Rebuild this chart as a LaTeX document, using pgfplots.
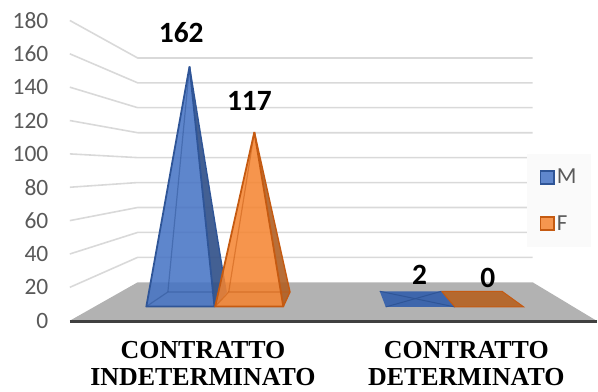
\documentclass[border=0pt]{standalone}
\usepackage{pgfplots}
\pgfplotsset{compat=1.18}
\usepackage{fontspec}
\setmainfont{Carlito}
\newfontfamily\serifb{Liberation Serif}[BoldFont={Liberation Serif Bold}]
\definecolor{gridc}{HTML}{D9D9D9}
\definecolor{floorc}{HTML}{B2B2B2}
\definecolor{axisc}{HTML}{404040}
\definecolor{txt}{HTML}{595959}
\definecolor{bf}{HTML}{4472C4}
\definecolor{be}{HTML}{2F5597}
\definecolor{of}{HTML}{F58430}
\definecolor{oe}{HTML}{C55A11}
\definecolor{bflat}{HTML}{3E66AC}
\definecolor{oflat}{HTML}{B5692F}
\pgfplotsset{
  swatchM/.style={legend image code/.code={\draw[draw=be,line width=1.5pt,fill=bf!85!white] (0pt,-6.5pt) rectangle (13.5pt,6.5pt);}},
  swatchF/.style={legend image code/.code={\draw[draw=oe,line width=1.5pt,fill=of!85!white] (0pt,-6.5pt) rectangle (13.5pt,6.5pt);}},
}
\begin{document}
\begin{tikzpicture}
\begin{axis}[
  width=598pt,height=392pt,scale only axis,
  xmin=0,xmax=598,ymin=-42.16,ymax=192.26,
  clip=false,no markers,
  axis line style={draw=none},
  major tick style={draw=none},
  xtick=\empty,
  ytick={0,20,40,60,80,100,120,140,160,180},
  /pgf/number format/assume math mode=true,
  yticklabel style={font=\fontsize{23.5}{25}\selectfont,text=txt,xshift=52pt},
  legend style={at={(axis cs:528,100.2)},anchor=north west,fill=white!98!black,draw=none,
    font=\fontsize{23}{25}\selectfont,text=txt,inner xsep=13pt,inner ysep=13.5pt,
    cells={anchor=west},row sep=26pt},
  legend cell align=left,
]
% walls gridlines
\addplot[gridc,line width=1.6pt,forget plot] coordinates {(70,20) (138,37.97) (534,37.97)};
\addplot[gridc,line width=1.6pt,forget plot] coordinates {(70,40) (138,52.92) (534,52.92)};
\addplot[gridc,line width=1.6pt,forget plot] coordinates {(70,60) (138,67.87) (534,67.87)};
\addplot[gridc,line width=1.6pt,forget plot] coordinates {(70,80) (138,82.82) (534,82.82)};
\addplot[gridc,line width=1.6pt,forget plot] coordinates {(70,100) (138,97.77) (534,97.77)};
\addplot[gridc,line width=1.6pt,forget plot] coordinates {(70,120) (138,112.7) (534,112.7)};
\addplot[gridc,line width=1.6pt,forget plot] coordinates {(70,140) (138,127.7) (534,127.7)};
\addplot[gridc,line width=1.6pt,forget plot] coordinates {(70,160) (138,142.6) (534,142.6)};
\addplot[gridc,line width=1.6pt,forget plot] coordinates {(70,180) (138,157.5) (534,157.5)};
% floor
\addplot[draw=none,fill=floorc,forget plot] coordinates {(70,0) (138,23.02) (534,23.02) (598,0) (70,0)};
\addplot[axisc,line width=3pt,forget plot] coordinates {(70,-0.2) (598,-0.2)};
% M, contratto indeterminato
\addplot[draw=none,fill=bf,fill opacity=0.86,forget plot] coordinates {(146.7,8.49) (215,8.49) (226.7,17.22) (190,152.4) (146.7,8.49)};
\addplot[draw=none,fill=black,fill opacity=0.28,forget plot] coordinates {(215,8.49) (226.7,17.22) (190,152.4) (215,8.49)};
\addplot[be,line width=1.2pt,opacity=0.5,forget plot] coordinates {(146.7,8.49) (168.3,17.22) (226.7,17.22)};
\addplot[be,line width=1.2pt,opacity=0.5,forget plot] coordinates {(168.3,17.22) (190,152.4)};
\addplot[be,line width=1.8pt,line join=round,forget plot] coordinates {(190,152.4) (146.7,8.49) (215,8.49) (190,152.4)};
\addplot[be,line width=1.4pt,line join=round,forget plot] coordinates {(215,8.49) (226.7,17.22) (190,152.4)};
% F, contratto indeterminato
\addplot[draw=none,fill=of,fill opacity=0.86,forget plot] coordinates {(215.7,8.49) (284,8.49) (290.7,17.22) (255,113.1) (215.7,8.49)};
\addplot[draw=none,fill=black,fill opacity=0.25,forget plot] coordinates {(284,8.49) (290.7,17.22) (255,113.1) (284,8.49)};
\addplot[oe,line width=1.2pt,opacity=0.5,forget plot] coordinates {(215.7,8.49) (229.3,17.22) (290.7,17.22)};
\addplot[oe,line width=1.2pt,opacity=0.5,forget plot] coordinates {(229.3,17.22) (255,113.1)};
\addplot[oe,line width=1.8pt,line join=round,forget plot] coordinates {(255,113.1) (215.7,8.49) (284,8.49) (255,113.1)};
\addplot[oe,line width=1.4pt,line join=round,forget plot] coordinates {(284,8.49) (290.7,17.22) (255,113.1)};
% M, contratto determinato
\addplot[draw=none,fill=bflat,forget plot] coordinates {(380.7,17.64) (442.7,17.64) (456,8.25) (386.7,8.25) (380.7,17.64)};
\addplot[be,line width=1pt,forget plot] coordinates {(380.7,17.64) (456,8.25)};
\addplot[be,line width=1pt,forget plot] coordinates {(442.7,17.64) (386.7,8.25)};
% F, contratto determinato
\addplot[draw=oe,line width=1pt,fill=oflat,forget plot] coordinates {(442.7,17.64) (503.3,17.64) (525,8.25) (456,8.25) (442.7,17.64)};
% legend
\addlegendimage{swatchM}
\addlegendentry{M}
\addlegendimage{swatchF}
\addlegendentry{F}
% labels
\node[font=\fontsize{29.5}{30}\selectfont\bfseries] at (axis cs:181.7,172.5) {162};
\node[font=\fontsize{29.5}{30}\selectfont\bfseries] at (axis cs:250,131.9) {117};
\node[font=\fontsize{29.5}{30}\selectfont\bfseries] at (axis cs:420.7,27.2) {2};
\node[font=\fontsize{29.5}{30}\selectfont\bfseries] at (axis cs:489,25.4) {0};
\node[inner sep=0pt,font=\fontsize{26}{28}\serifb\bfseries\selectfont] at (axis cs:203.5,-17.8) {CONTRATTO};
\node[inner sep=0pt,font=\fontsize{26}{28}\serifb\bfseries\selectfont] at (axis cs:203.5,-33.6) {INDETERMINATO};
\node[inner sep=0pt,font=\fontsize{26}{28}\serifb\bfseries\selectfont] at (axis cs:467.5,-17.8) {CONTRATTO};
\node[inner sep=0pt,font=\fontsize{26}{28}\serifb\bfseries\selectfont] at (axis cs:467.5,-33.6) {DETERMINATO};
\end{axis}
\end{tikzpicture}
\end{document}
